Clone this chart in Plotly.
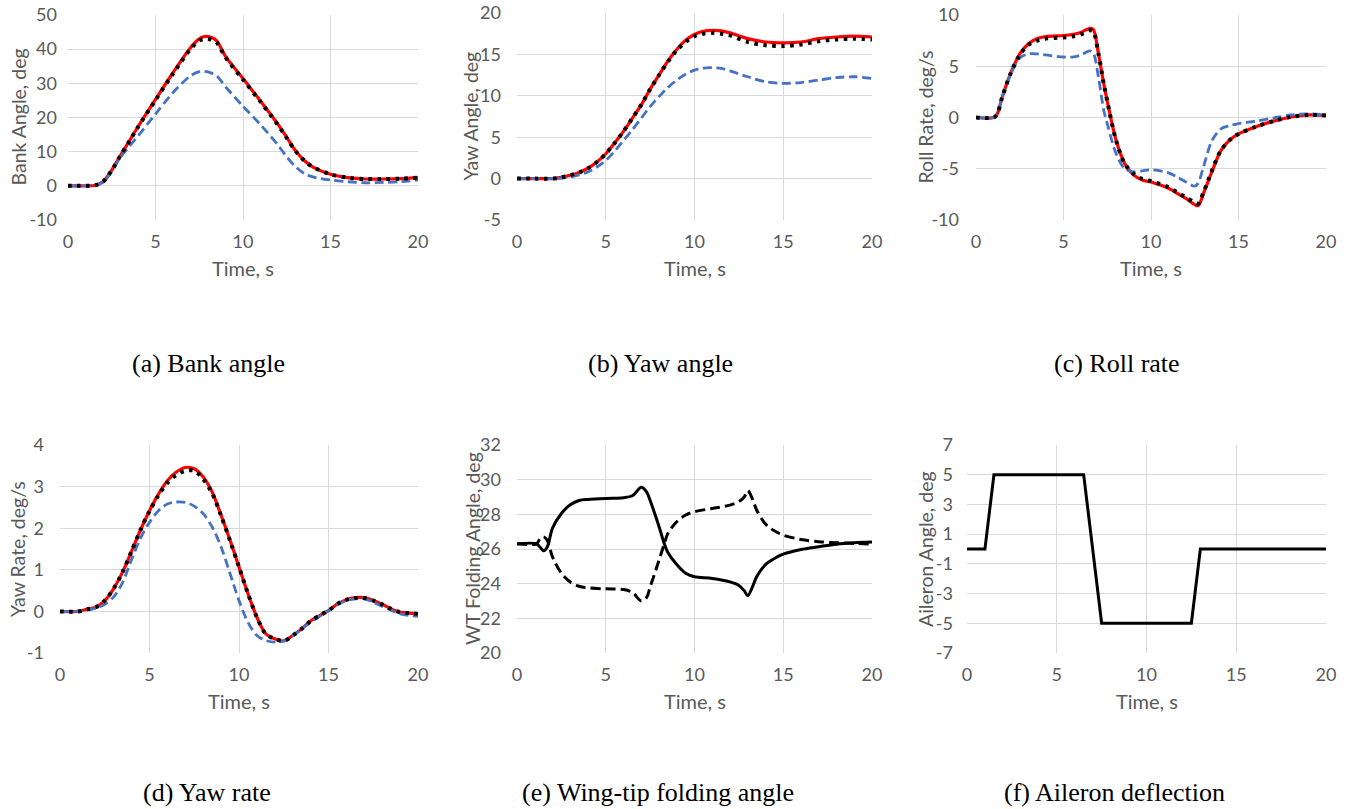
import plotly.graph_objects as go

W, H = 1348, 809

# ---------------- data ----------------
t_a = [0, 0.5, 1, 1.5, 2, 2.5, 3, 3.5, 4, 5, 6, 7, 7.5, 7.8, 8.2, 8.5, 9, 10, 11, 12, 12.5, 13, 13.5, 14, 15, 16, 17, 18, 19, 20]
bank_red = [0, 0, 0, 0.1, 1.2, 4.6, 8.9, 13.1, 17.3, 25.3, 33.1, 40.4, 43.0, 43.7, 43.4, 42.4, 37.9, 31.4, 24.8, 18.0, 14.2, 10.3, 7.4, 5.5, 3.4, 2.4, 2.0, 2.0, 2.1, 2.4]
bank_blk = [0, 0, 0, 0.1, 1.2, 4.6, 8.9, 13.0, 17.2, 25.1, 32.8, 40.0, 42.5, 43.0, 42.8, 41.9, 37.6, 31.1, 24.6, 17.8, 14.0, 10.2, 7.4, 5.5, 3.4, 2.4, 2.0, 2.0, 2.1, 2.4]
bank_blu = [0, 0, 0, 0.1, 1.0, 4.2, 8.4, 11.5, 14.6, 21.0, 27.3, 32.2, 33.4, 33.5, 33.0, 32.2, 29.0, 23.3, 17.9, 11.9, 8.5, 5.6, 3.6, 2.6, 1.7, 1.2, 0.9, 1.0, 1.2, 1.7]

t_b = [0, 1, 2, 2.5, 3, 3.5, 4, 4.5, 5, 5.5, 6, 6.5, 7, 7.5, 8, 8.5, 9, 9.5, 10, 10.5, 11, 11.5, 12, 13, 14, 15, 16, 17, 18, 19, 20]
yaw_red = [0, 0, 0, 0.15, 0.4, 0.75, 1.25, 2.0, 3.0, 4.3, 5.7, 7.3, 8.9, 10.8, 12.5, 14.2, 15.6, 16.7, 17.4, 17.8, 17.9, 17.85, 17.6, 16.9, 16.5, 16.4, 16.5, 16.9, 17.1, 17.2, 17.1]
yaw_blk = [0, 0, 0, 0.15, 0.4, 0.75, 1.25, 2.0, 3.0, 4.3, 5.7, 7.3, 8.9, 10.8, 12.5, 14.1, 15.5, 16.5, 17.2, 17.5, 17.6, 17.5, 17.3, 16.5, 16.1, 16.0, 16.2, 16.6, 16.8, 16.9, 16.8]
yaw_blu = [0, 0, 0, 0.05, 0.2, 0.45, 0.8, 1.4, 2.2, 3.3, 4.6, 5.9, 7.3, 8.7, 9.9, 11.0, 11.9, 12.6, 13.1, 13.35, 13.4, 13.3, 13.0, 12.3, 11.7, 11.5, 11.6, 11.9, 12.2, 12.3, 12.1]

t_c = [0, 1, 1.2, 1.5, 2, 2.5, 3, 3.5, 4, 5, 5.5, 6, 6.5, 6.7, 7, 7.3, 7.5, 8, 8.5, 9, 9.5, 10, 11, 11.5, 12, 12.5, 12.7, 13, 13.5, 14, 14.5, 15, 16, 17, 18, 19, 20]
roll_red = [0, 0, 0.3, 2.0, 4.4, 6.2, 7.2, 7.7, 7.9, 8.0, 8.1, 8.3, 8.7, 8.6, 6.2, 3.3, 1.6, -2.2, -4.5, -5.6, -6.1, -6.3, -6.9, -7.4, -7.9, -8.5, -8.6, -7.4, -5.2, -3.2, -2.2, -1.6, -0.9, -0.35, 0.05, 0.25, 0.2]
roll_blk = [0, 0, 0.3, 2.0, 4.4, 6.1, 7.1, 7.5, 7.7, 7.8, 7.9, 8.1, 8.5, 8.4, 6.2, 3.3, 1.6, -2.2, -4.5, -5.5, -6.0, -6.2, -6.8, -7.3, -7.8, -8.3, -8.4, -7.3, -5.1, -3.2, -2.2, -1.6, -0.9, -0.35, 0.05, 0.25, 0.2]
roll_blu = [0, 0, 0.3, 2.0, 4.3, 5.8, 6.2, 6.2, 6.1, 5.9, 5.9, 6.1, 6.5, 6.3, 3.9, 0.7, -0.6, -3.5, -5.0, -5.3, -5.2, -5.1, -5.4, -5.8, -6.3, -6.7, -6.4, -4.8, -2.2, -1.1, -0.8, -0.6, -0.35, -0.05, 0.25, 0.35, 0.25]

t_d = [0, 1, 1.5, 2, 2.5, 3, 3.5, 4, 4.5, 5, 5.5, 6, 6.5, 7, 7.5, 8, 8.5, 9, 9.5, 10, 10.5, 11, 11.5, 12, 12.5, 13, 13.5, 14, 14.5, 15, 15.5, 16, 16.5, 17, 17.5, 18, 18.5, 19, 19.5, 20]
yr_red = [0, 0, 0.05, 0.1, 0.26, 0.55, 0.95, 1.45, 1.96, 2.42, 2.82, 3.14, 3.35, 3.46, 3.43, 3.23, 2.87, 2.31, 1.71, 1.07, 0.43, -0.14, -0.54, -0.66, -0.71, -0.58, -0.42, -0.23, -0.1, 0.02, 0.18, 0.28, 0.33, 0.33, 0.26, 0.17, 0.06, -0.02, -0.04, -0.06]
yr_blk = [0, 0, 0.05, 0.1, 0.26, 0.55, 0.95, 1.45, 1.96, 2.41, 2.79, 3.09, 3.28, 3.38, 3.38, 3.18, 2.84, 2.3, 1.7, 1.07, 0.43, -0.14, -0.54, -0.66, -0.71, -0.58, -0.42, -0.23, -0.1, 0.02, 0.18, 0.28, 0.32, 0.32, 0.26, 0.17, 0.06, -0.02, -0.04, -0.06]
yr_blu = [0, 0, 0.03, 0.08, 0.17, 0.35, 0.7, 1.25, 1.76, 2.14, 2.42, 2.58, 2.63, 2.62, 2.53, 2.35, 2.03, 1.55, 0.91, 0.26, -0.26, -0.58, -0.7, -0.74, -0.71, -0.58, -0.42, -0.26, -0.12, 0.02, 0.16, 0.26, 0.3, 0.3, 0.22, 0.12, 0.03, -0.06, -0.1, -0.12]

t_e = [0, 1.1, 1.3, 1.5, 1.7, 2, 2.5, 3, 3.5, 4, 5, 6, 6.5, 7, 7.3, 7.5, 8, 8.3, 8.5, 9, 9.5, 10, 11, 12, 12.5, 12.8, 13, 13.3, 13.5, 14, 14.5, 15, 16, 17, 18, 19, 20]
wt_solid = [26.3, 26.3, 26.1, 25.9, 26.1, 27.2, 28.05, 28.55, 28.8, 28.86, 28.92, 28.96, 29.07, 29.56, 29.3, 28.8, 27.3, 26.3, 25.8, 25.1, 24.6, 24.4, 24.3, 24.1, 23.9, 23.6, 23.3, 23.9, 24.4, 25.1, 25.45, 25.7, 25.97, 26.13, 26.28, 26.36, 26.4]
wt_dash = [26.3, 26.3, 26.6, 26.7, 26.5, 25.55, 24.6, 24.1, 23.85, 23.76, 23.7, 23.66, 23.5, 23.0, 23.2, 23.8, 25.35, 26.3, 26.9, 27.57, 27.96, 28.15, 28.34, 28.53, 28.73, 29.0, 29.37, 28.8, 28.25, 27.44, 27.05, 26.8, 26.55, 26.42, 26.36, 26.32, 26.28]

t_f = [0, 1, 1.5, 6.5, 7.5, 12.5, 13, 20]
ail = [0, 0, 5, 5, -5, -5, 0, 0]

x_ticks = [0, 5, 10, 15, 20]
y_ticks = {
    1: [-10, 0, 10, 20, 30, 40, 50],
    2: [-5, 0, 5, 10, 15, 20],
    3: [-10, -5, 0, 5, 10],
    4: [-1, 0, 1, 2, 3, 4],
    5: [20, 22, 24, 26, 28, 30, 32],
    6: [-7, -5, -3, -1, 1, 3, 5, 7],
}
y_titles = {1: "Bank Angle, deg", 2: "Yaw Angle, deg", 3: "Roll Rate, deg/s",
            4: "Yaw Rate, deg/s", 5: "WT Folding Angle, deg", 6: "Aileron Angle, deg"}
captions = {1: "(a) Bank angle", 2: "(b) Yaw angle", 3: "(c) Roll rate",
            4: "(d) Yaw rate", 5: "(e) Wing-tip folding angle", 6: "(f) Aileron deflection"}

# ---------------- layout geometry (pixels) ----------------
boxes = {  # left, right, top, bottom
    1: (68, 418, 15, 220),
    2: (517, 872, 13, 220),
    3: (976, 1326, 15, 220),
    4: (60, 418, 445, 653),
    5: (517, 872, 445, 653),
    6: (967, 1326, 445, 653),
}
ytitle_x = {1: 18, 2: 470, 3: 925, 4: 17, 5: 472, 6: 925}
ytick_pad = {1: 10, 2: 15, 3: 16, 4: 15, 5: 15, 6: 13}
caption_pos = {1: (208, 363), 2: (660, 363), 3: (1117, 363),
               4: (207, 792), 5: (658, 792), 6: (1114, 792)}

RED = "#FF0000"
BLUE = "#4472C4"
BLK = "#000000"
GRID = "#D9D9D9"
TXT = "#595959"
SANS = "Lato, 'Open Sans', sans-serif"
SERIF = "'Liberation Serif', 'DejaVu Serif', serif"

fig = go.Figure()

def ax(i):
    return ("x" if i == 1 else f"x{i}"), ("y" if i == 1 else f"y{i}")

def add_line(i, x, y, color, width, dash="solid", shape="spline"):
    xa, ya = ax(i)
    line = dict(color=color, width=width, dash=dash, shape=shape)
    if shape == "spline":
        line["smoothing"] = 0.9
    fig.add_trace(go.Scatter(x=x, y=y, mode="lines", line=line,
                             xaxis=xa, yaxis=ya, showlegend=False, hoverinfo="skip"))

DOT = "3.5px,5.5px"
DASH_B = "9px,4.5px"

add_line(1, t_a, bank_red, RED, 3.2)
add_line(1, t_a, bank_blu, BLUE, 2.8, DASH_B)
add_line(1, t_a, bank_blk, BLK, 4, DOT)

add_line(2, t_b, yaw_red, RED, 3.2)
add_line(2, t_b, yaw_blu, BLUE, 2.8, DASH_B)
add_line(2, t_b, yaw_blk, BLK, 4, DOT)

add_line(3, t_c, roll_red, RED, 3.2)
add_line(3, t_c, roll_blu, BLUE, 2.8, DASH_B)
add_line(3, t_c, roll_blk, BLK, 4, DOT)

add_line(4, t_d, yr_red, RED, 3.2)
add_line(4, t_d, yr_blu, BLUE, 2.8, DASH_B)
add_line(4, t_d, yr_blk, BLK, 4, DOT)

add_line(5, t_e, wt_solid, BLK, 3)
add_line(5, t_e, wt_dash, BLK, 3, "10px,5px")

add_line(6, t_f, ail, BLK, 3, shape="linear")

layout = dict(
    width=W, height=H,
    margin=dict(l=0, r=0, t=0, b=0, pad=0, autoexpand=False),
    paper_bgcolor="white", plot_bgcolor="white",
    showlegend=False,
    annotations=[],
)

for i in range(1, 7):
    l, r, t, b = boxes[i]
    xa_name = "xaxis" if i == 1 else f"xaxis{i}"
    ya_name = "yaxis" if i == 1 else f"yaxis{i}"
    xa, ya = ax(i)
    yt = y_ticks[i]
    layout[xa_name] = dict(
        domain=[l / W, r / W], anchor=ya, range=[0, 20], automargin=False,
        tickvals=x_ticks, ticktext=[str(v) for v in x_ticks],
        ticks="", showgrid=True, gridcolor=GRID, gridwidth=1,
        zeroline=False, showline=False,
        tickfont=dict(family=SANS, size=18, color=TXT), ticklabelstandoff=9,
    )
    layout[ya_name] = dict(
        domain=[1 - b / H, 1 - t / H], anchor=xa, range=[yt[0], yt[-1]], automargin=False,
        tickvals=yt, ticktext=[str(v) for v in yt],
        ticks="", showgrid=True, gridcolor=GRID, gridwidth=1,
        zeroline=False, showline=False,
        tickfont=dict(family=SANS, size=18, color=TXT), ticklabelstandoff=ytick_pad[i],
    )
    # x-axis title
    layout["annotations"].append(dict(
        text="Time, s", xref="paper", yref="paper",
        x=((l + r) / 2) / W, y=1 - (b + 48) / H, xanchor="center", yanchor="middle",
        showarrow=False, font=dict(family=SANS, size=20, color=TXT)))
    # y-axis title
    layout["annotations"].append(dict(
        text=y_titles[i], xref="paper", yref="paper", textangle=-90,
        x=ytitle_x[i] / W, y=1 - ((t + b) / 2) / H, xanchor="center", yanchor="middle",
        showarrow=False, font=dict(family=SANS, size=19.5, color=TXT)))
    # caption
    cx, cy = caption_pos[i]
    layout["annotations"].append(dict(
        text=captions[i], xref="paper", yref="paper",
        x=cx / W, y=1 - cy / H, xanchor="center", yanchor="middle",
        showarrow=False, font=dict(family=SERIF, size=26, color="black")))

fig.update_layout(**layout)
fig.write_html(
    "out.html",
    config={"displayModeBar": False, "staticPlot": True},
    post_script="document.body.style.margin='0';document.body.style.padding='0';document.body.style.overflow='hidden';",
)
